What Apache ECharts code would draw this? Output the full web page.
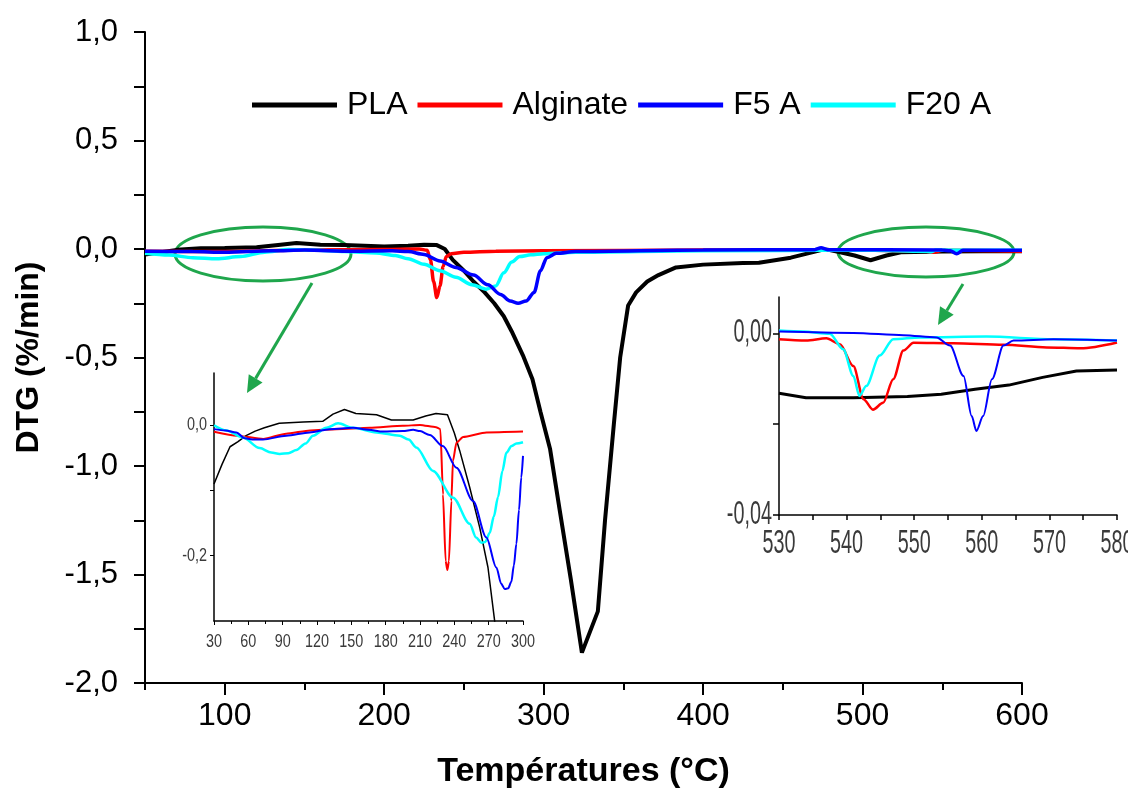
<html>
<head>
<meta charset="utf-8">
<title>DTG</title>
<script src="https://cdn.jsdelivr.net/npm/echarts@6.0.0/dist/echarts.min.js"></script>
<style>
  body{margin:0;background:#fff;}
  #chart{width:1128px;height:794px;}
</style>
</head>
<body>
<div id="chart"></div>
<script>
// courbes principales : [température °C, DTG %/min]
var plaMain = [[50,-0.025],[60,-0.015],[70,-0.004],[85,0.003],[100,0.005],[120,0.008],[135,0.02],[145,0.028],[160,0.02],[175,0.018],[200,0.012],[215,0.015],[225,0.02],[233,0.018],[238,0.0],[243,-0.05],[250,-0.1],[256,-0.15],[263,-0.2],[269,-0.25],[275,-0.31],[280,-0.38],[287,-0.49],[293,-0.6],[298,-0.75],[304,-0.92],[310,-1.2],[317,-1.52],[324,-1.86],[334,-1.67],[338.5,-1.25],[344,-0.81],[348,-0.5],[353,-0.26],[358,-0.2],[365,-0.15],[372,-0.12],[383,-0.085],[400,-0.072],[425,-0.065],[435,-0.063],[455,-0.04],[474,-0.005],[478,-0.003],[486,-0.015],[495,-0.03],[505,-0.052],[515,-0.03],[524,-0.015],[550,-0.012],[575,-0.01],[600,-0.01]];
var alginateMain = [[50,-0.01],[100,-0.012],[150,-0.005],[200,-0.002],[222,0.0],[227,-0.006],[229,-0.05],[231,-0.15],[233,-0.224],[235,-0.17],[237,-0.08],[239,-0.035],[242,-0.022],[250,-0.015],[270,-0.01],[300,-0.008],[400,-0.005],[500,-0.005],[540,-0.01],[545,-0.015],[550,-0.006],[600,-0.01]];
var f5aMain = [[50,-0.01],[80,-0.012],[100,-0.015],[130,-0.008],[150,-0.005],[180,-0.01],[205,-0.008],[215,-0.012],[225,-0.025],[235,-0.055],[245,-0.085],[256,-0.12],[265,-0.165],[273,-0.21],[279,-0.24],[284,-0.25],[289,-0.24],[294,-0.2],[298,-0.1],[302,-0.04],[308,-0.02],[320,-0.012],[400,-0.005],[470,-0.003],[474,0.006],[478,-0.003],[550,-0.005],[555,-0.008],[559,-0.022],[563,-0.006],[600,-0.006]];
var f20aMain = [[50,-0.02],[65,-0.028],[80,-0.04],[95,-0.045],[110,-0.035],[125,-0.015],[140,-0.002],[155,-0.005],[175,-0.012],[195,-0.018],[207,-0.03],[215,-0.045],[225,-0.07],[235,-0.1],[245,-0.13],[255,-0.165],[264,-0.185],[270,-0.17],[275,-0.11],[280,-0.06],[285,-0.035],[292,-0.027],[300,-0.022],[320,-0.015],[400,-0.008],[500,-0.005],[540,-0.01],[543,-0.013],[546,-0.005],[600,-0.006]];

// encart gauche (30-300 °C)
var plaLeft = [[30,-0.09],[37,-0.06],[44,-0.033],[51,-0.025],[58,-0.016],[66,-0.009],[74,-0.004],[87,0.003],[108,0.005],[125,0.006],[134,0.017],[144,0.024],[154,0.018],[172,0.016],[185,0.008],[204,0.008],[215,0.014],[224,0.018],[234,0.016],[240,-0.012],[244.7,-0.039],[253.4,-0.095],[262.2,-0.157],[269.4,-0.218],[275.3,-0.301],[280,-0.36]];
var alginateLeft = [[30,-0.01],[50,-0.016],[73,-0.021],[93,-0.013],[114,-0.008],[137,-0.006],[166,-0.004],[195,-0.001],[210,0.0005],[224,-0.003],[227.8,-0.006],[230.1,-0.106],[232.4,-0.208],[233.9,-0.222],[235.3,-0.208],[237.4,-0.116],[238.8,-0.055],[241.8,-0.027],[247.6,-0.018],[268,-0.011],[300,-0.0097]];
var f5aLeft = [[30,-0.006],[40,-0.008],[49.5,-0.011],[56.8,-0.02],[65,-0.022],[72.8,-0.022],[93.2,-0.016],[113.6,-0.011],[131,-0.006],[151.5,-0.004],[165,-0.007],[177.7,-0.0097],[195,-0.009],[204,-0.007],[210,-0.009],[218.5,-0.015],[230,-0.032],[241.8,-0.065],[256.3,-0.116],[268,-0.172],[276.7,-0.218],[281,-0.243],[284,-0.251],[287,-0.25],[289.8,-0.24],[292,-0.215],[294.2,-0.182],[296.5,-0.13],[298.5,-0.08],[300,-0.047]];
var f20aLeft = [[30,0.0],[40.8,-0.008],[55.3,-0.019],[69.9,-0.035],[80,-0.042],[87.4,-0.044],[95,-0.043],[102,-0.038],[110,-0.028],[116.5,-0.016],[128.2,-0.004],[138.4,0.003],[151.5,-0.004],[171.9,-0.011],[192.3,-0.016],[200,-0.022],[206.8,-0.034],[221.4,-0.07],[238.9,-0.111],[253.4,-0.151],[259,-0.172],[263.6,-0.18],[267,-0.179],[270.9,-0.165],[274.5,-0.14],[278.2,-0.11],[282,-0.07],[285.5,-0.042],[290,-0.032],[294.2,-0.028],[300,-0.026]];

// encart droit (530-580 °C)
var plaRight = [[530,-0.0132],[534,-0.0142],[541,-0.0142],[549,-0.0139],[554,-0.0134],[559,-0.0123],[564,-0.0114],[569,-0.0097],[574,-0.0083],[580,-0.0081]];
var alginateRight = [[530,-0.0013],[534,-0.0016],[537,-0.0011],[539,-0.0024],[541,-0.0072],[542.5,-0.0145],[543.9,-0.0168],[545.4,-0.0153],[546.9,-0.0101],[548.4,-0.0038],[549.9,-0.0021],[555.8,-0.0022],[563.2,-0.0025],[569.6,-0.0031],[574.6,-0.0033],[580,-0.002]];
var f5aRight = [[530,0.0004],[541,0.0001],[548.4,-0.0004],[553.3,-0.0009],[555.3,-0.0027],[557.3,-0.0094],[558.5,-0.0182],[559.2,-0.0215],[560.2,-0.0182],[561.5,-0.0101],[563.2,-0.0027],[564.7,-0.0016],[570.6,-0.0013],[580,-0.0016]];
var f20aRight = [[530,0.0006],[533.6,0.0004],[537.5,-0.0001],[539.5,-0.0035],[541,-0.0094],[541.9,-0.0138],[542.9,-0.0116],[544.9,-0.0049],[546.9,-0.0013],[550.9,-0.0009],[560.7,-0.0007],[570.6,-0.0013],[580,-0.0016]];

var names = ['PLA', 'Alginate', 'F5 A', 'F20 A'];
var colors = {'PLA': '#000000', 'Alginate': '#ff0000', 'F5 A': '#0000ff', 'F20 A': '#00ffff'};

// graduations
var xMainLabels = [100, 200, 300, 400, 500, 600];
var xMainMinor = [50, 150, 250, 350, 450, 550];
var xLeftTicks = [30, 60, 90, 120, 150, 180, 210, 240, 270, 300];
var xRightTicks = [530, 540, 550, 560, 570, 580];
var yLeftLabels = [0, -0.2];
var yLeftTicks = [0, -0.1, -0.2];
var yRightLabels = [0, -0.04];
var yRightTicks = [0, -0.02, -0.04];

var FONT = '"Liberation Sans", Arial, sans-serif';
var NARROW = '"Liberation Sans Narrow", "Arial Narrow", sans-serif';

function comma(v, d) {
  var s = (Math.abs(v) < 1e-9 ? 0 : v).toFixed(d);
  return s.replace('.', ',');
}

function line(name, data, width, xi, yi, smooth) {
  return {
    name: name, type: 'line', data: data,
    xAxisIndex: xi, yAxisIndex: yi,
    symbol: 'none', smooth: smooth, smoothMonotone: 'x',
    itemStyle: {color: colors[name]},
    lineStyle: {color: colors[name], width: width}
  };
}

var dom = document.getElementById('chart');
var myChart = echarts.init(dom);
var option = {
  animation: false,
  backgroundColor: '#fff',
  legend: {
    data: names,
    left: 247, top: 84,
    icon: 'rect', itemWidth: 85, itemHeight: 5, itemGap: 10,
    textStyle: {fontSize: 32, fontFamily: FONT, color: '#000', padding: [0, 0, 0, 5]}
  },
  grid: [
    {left: 145, right: 106, top: 32, bottom: 111},
    {left: 214, width: 309, top: 373, height: 248},
    {left: 779, width: 338, top: 297, height: 218}
  ],
  xAxis: [
    {
      type: 'value', gridIndex: 0, min: 50, max: 600,
      name: 'Températures (°C)', nameLocation: 'middle', nameGap: 72,
      nameTextStyle: {fontSize: 34, fontWeight: 'bold', fontFamily: FONT, color: '#000'},
      axisLine: {onZero: false, lineStyle: {color: '#000', width: 2}},
      axisTick: {customValues: xMainLabels, length: 12, lineStyle: {width: 2}},
      axisLabel: {customValues: xMainLabels, margin: 17, fontSize: 32, fontFamily: FONT, color: '#000'},
      splitLine: {show: false}
    },
    {
      type: 'value', gridIndex: 0, min: 50, max: 600, position: 'bottom',
      axisLine: {show: false, onZero: false},
      axisTick: {customValues: xMainMinor, length: 7, lineStyle: {color: '#000', width: 2}},
      axisLabel: {show: false},
      splitLine: {show: false}
    },
    {
      type: 'value', gridIndex: 1, min: 30, max: 300, interval: 30,
      axisLine: {onZero: false, lineStyle: {color: '#000', width: 1.5}},
      axisTick: {length: 4, lineStyle: {color: '#000'}},
      minorTick: {show: true, splitNumber: 2, length: 3, lineStyle: {color: '#000'}},
      axisLabel: {show: false},
      splitLine: {show: false}
    },
    {
      type: 'value', gridIndex: 2, min: 530, max: 580, interval: 10,
      axisLine: {onZero: false, lineStyle: {color: '#000', width: 1.5}},
      axisTick: {length: 5, lineStyle: {color: '#000', width: 1.5}},
      minorTick: {show: true, splitNumber: 2, length: 5, lineStyle: {color: '#000', width: 1.5}},
      axisLabel: {show: false},
      splitLine: {show: false}
    }
  ],
  yAxis: [
    {
      type: 'value', gridIndex: 0, min: -2, max: 1, interval: 0.5,
      name: 'DTG (%/min)', nameLocation: 'middle', nameGap: 100,
      nameTextStyle: {fontSize: 32, fontWeight: 'bold', fontFamily: FONT, color: '#000'},
      axisLine: {onZero: false, lineStyle: {color: '#000', width: 2}},
      axisTick: {length: 11, lineStyle: {width: 2}},
      minorTick: {show: true, splitNumber: 2, length: 11, lineStyle: {color: '#000', width: 2}},
      axisLabel: {margin: 27, fontSize: 31, fontFamily: FONT, color: '#000',
        formatter: function (v) { return comma(v, 1); }},
      splitLine: {show: false}
    },
    {
      type: 'value', gridIndex: 1, min: -0.3, max: 0.08,
      axisLine: {onZero: false, lineStyle: {color: '#000', width: 1.5}},
      axisTick: {customValues: yLeftTicks, length: 4, lineStyle: {color: '#000'}},
      axisLabel: {show: false},
      splitLine: {show: false}
    },
    {
      type: 'value', gridIndex: 2, min: -0.04, max: 0.008,
      axisLine: {onZero: false, lineStyle: {color: '#000', width: 1.5}},
      axisTick: {customValues: yRightTicks, length: 6, lineStyle: {color: '#000', width: 1.5}},
      axisLabel: {show: false},
      splitLine: {show: false}
    }
  ],
  series: [
    line('PLA', plaMain, 4, 0, 0, false),
    line('Alginate', alginateMain, 3.5, 0, 0, 0.3),
    line('F20 A', f20aMain, 3.5, 0, 0, 0.3),
    line('F5 A', f5aMain, 3.5, 0, 0, 0.3),
    line('PLA', plaLeft, 1.5, 2, 1, false),
    line('Alginate', alginateLeft, 2, 2, 1, 0.2),
    line('F20 A', f20aLeft, 2.5, 2, 1, 0.3),
    line('F5 A', f5aLeft, 2, 2, 1, 0.3),
    line('PLA', plaRight, 3, 3, 2, false),
    line('Alginate', alginateRight, 2.5, 3, 2, 0.3),
    line('F20 A', f20aRight, 2.5, 3, 2, 0.3),
    line('F5 A', f5aRight, 2, 3, 2, 0.3)
  ]
};
myChart.setOption(option);

// étiquettes des encarts (police étroite, compressée)
function insetText(xi, yi, xVals, yVals, yMin, xMin, dec, font, sx, color) {
  var out = [];
  xVals.forEach(function (v) {
    var p = myChart.convertToPixel({xAxisIndex: xi, yAxisIndex: yi}, [v, yMin]);
    out.push({type: 'text', x: p[0], y: p[1] + 12, scaleX: sx, silent: true,
      style: {text: String(v), font: font, fill: color, align: 'center', verticalAlign: 'top'}});
  });
  yVals.forEach(function (v) {
    var p = myChart.convertToPixel({xAxisIndex: xi, yAxisIndex: yi}, [xMin, v]);
    out.push({type: 'text', x: p[0] - 7, y: p[1], scaleX: sx, silent: true,
      style: {text: comma(v, dec), font: font, fill: color, align: 'right', verticalAlign: 'middle'}});
  });
  return out;
}

function arrow(x1, y1, x2, y2, color) {
  var dx = x2 - x1, dy = y2 - y1, len = Math.sqrt(dx * dx + dy * dy);
  var ux = dx / len, uy = dy / len, hl = 17, hw = 8;
  var bx = x2 - ux * hl, by = y2 - uy * hl;
  return [
    {type: 'line', silent: true, shape: {x1: x1, y1: y1, x2: bx, y2: by},
      style: {stroke: color, lineWidth: 3}},
    {type: 'polygon', silent: true,
      shape: {points: [[x2, y2], [bx - uy * hw, by + ux * hw], [bx + uy * hw, by - ux * hw]]},
      style: {fill: color}}
  ];
}

var green = '#1fa64c';
var graphic = []
  .concat(insetText(2, 1, xLeftTicks, yLeftLabels, -0.3, 30, 1, '18px ' + NARROW, 0.8, '#3a3a3a'))
  .concat(insetText(3, 2, xRightTicks, yRightLabels, -0.04, 530, 2, '33px ' + NARROW, 0.6, '#3a3a3a'))
  .concat([
    {type: 'ellipse', silent: true, shape: {cx: 263, cy: 254, rx: 88, ry: 27},
      style: {fill: 'none', stroke: green, lineWidth: 3}},
    {type: 'ellipse', silent: true, shape: {cx: 926, cy: 252, rx: 88, ry: 25},
      style: {fill: 'none', stroke: green, lineWidth: 3}}
  ])
  .concat(arrow(312, 283, 247, 393, green))
  .concat(arrow(963, 284, 938, 325, green));
myChart.setOption({graphic: graphic});
</script>
</body>
</html>
